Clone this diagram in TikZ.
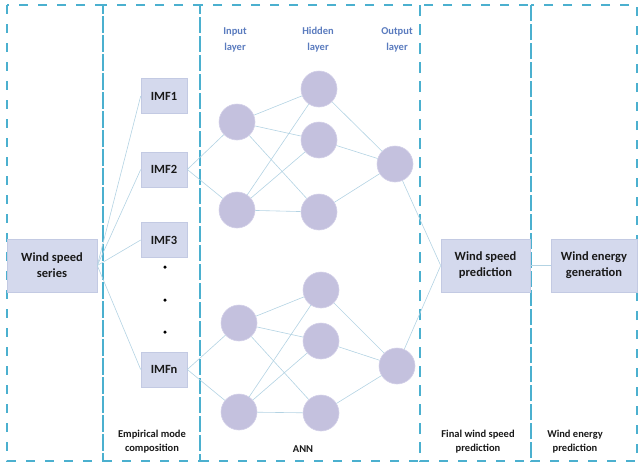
\documentclass[tikz,border=0pt]{standalone}
\usepackage{fontspec}
\setmainfont{Carlito}
\definecolor{boxfill}{HTML}{D4D9ED}
\definecolor{boxdraw}{HTML}{C3CAE3}
\definecolor{neufill}{HTML}{C4C1DE}
\definecolor{neudraw}{HTML}{D3D0E8}
\definecolor{edgec}{HTML}{B3D3E3}
\definecolor{dashc}{HTML}{4BB0CF}
\definecolor{toplab}{HTML}{5A7BBE}
\begin{document}
\begin{tikzpicture}[x=1pt,y=-1pt,
  sect/.style={draw=dashc,line width=1.8pt,dash pattern=on 9pt off 10pt},
  blk/.style={rectangle,fill=boxfill,draw=boxdraw,line width=0.6pt,inner sep=0pt,align=center,font=\bfseries\fontsize{12.5}{16}\selectfont,text=black!90},
  imf/.style={blk,minimum width=46pt,minimum height=35pt},
  big/.style={blk,minimum height=53pt},
  neuron/.style={circle,fill=neufill,draw=neudraw,line width=0.6pt,minimum size=36pt,inner sep=0pt},
  conn/.style={draw=edgec,line width=0.6pt},
  toplabel/.style={align=center,font=\bfseries\fontsize{10.5}{16}\selectfont,text=toplab},
  botlabel/.style={align=center,font=\bfseries\fontsize{10.5}{14}\selectfont,text=black!90},
  dotn/.style={circle,fill=black,inner sep=0pt,minimum size=3.5pt}
]
\useasboundingbox (0,0) rectangle (640,469);
% dashed sections
\draw[sect] (7,5) rectangle (103,461);
\draw[sect] (103,5) rectangle (200,461);
\draw[sect] (200,5) rectangle (420,461);
\draw[sect] (420,5) rectangle (531,461);
\draw[sect] (531,5) rectangle (637,461);
% boxes
\node[big,minimum width=90pt] (wss) at (52,265.5) {Wind speed\\series};
\node[imf] (imf1) at (164,96) {IMF1};
\node[imf] (imf2) at (164,169.5) {IMF2};
\node[imf] (imf3) at (164,240) {IMF3};
\node[imf] (imfn) at (164,369.5) {IMFn};
\node[big,minimum width=89pt] (wsp) at (485.5,265.5) {Wind speed\\prediction};
\node[big,minimum width=86pt] (weg) at (594,265.5) {Wind energy\\generation};
\node[dotn] (d1) at (165,267) {};
\node[dotn] (d2) at (165,300) {};
\node[dotn] (d3) at (165,332) {};
% neurons
\node[neuron] (i1) at (237,122) {};
\node[neuron] (i2) at (237,210) {};
\node[neuron] (h1) at (319,89) {};
\node[neuron] (h2) at (319,140) {};
\node[neuron] (h3) at (319,212) {};
\node[neuron] (o1) at (395,164) {};
\node[neuron] (i3) at (239,323) {};
\node[neuron] (i4) at (239,412) {};
\node[neuron] (h4) at (321,290) {};
\node[neuron] (h5) at (321,341) {};
\node[neuron] (h6) at (321,413) {};
\node[neuron] (o2) at (397,366) {};
% connectors
\foreach \t in {imf1,imf2,imf3,imfn} \draw[conn] (wss.east) -- (\t.west);
\draw[conn] (imf2.east) -- (i1);
\draw[conn] (imf2.east) -- (i2);
\draw[conn] (imfn.east) -- (i3);
\draw[conn] (imfn.east) -- (i4);
\foreach \a in {i1,i2} \foreach \b in {h1,h2,h3} \draw[conn] (\a) -- (\b);
\foreach \a in {i3,i4} \foreach \b in {h4,h5,h6} \draw[conn] (\a) -- (\b);
\foreach \a in {h1,h2,h3} \draw[conn] (\a) -- (o1);
\foreach \a in {h4,h5,h6} \draw[conn] (\a) -- (o2);
\draw[conn] (o1) -- (wsp.west);
\draw[conn] (o2) -- (wsp.west);
\draw[conn] (wsp.east) -- (weg.west);
% labels
\node[toplabel] (lin) at (235,40) {Input\\layer};
\node[toplabel] (lhid) at (318,40) {Hidden\\layer};
\node[toplabel] (lout) at (397,40) {Output\\layer};
\node[botlabel] (lemd) at (152,442) {Empirical mode\\composition};
\node[botlabel] (lann) at (303,449) {ANN};
\node[botlabel] (lfin) at (478,442) {Final wind speed\\prediction};
\node[botlabel] (lwep) at (575,442) {Wind energy\\prediction};
\end{tikzpicture}
\end{document}
